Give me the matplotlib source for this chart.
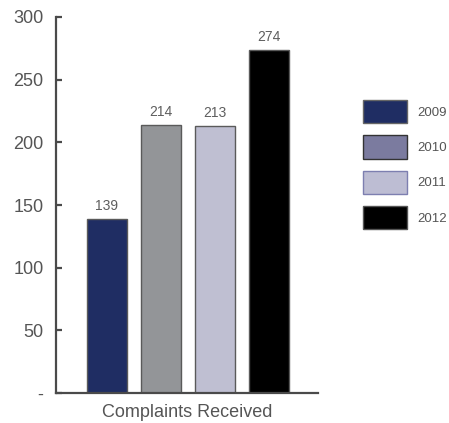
import matplotlib
matplotlib.use("Agg")
import matplotlib.pyplot as plt
from matplotlib.patches import Patch

plt.rcParams['font.family'] = ['Liberation Sans', 'DejaVu Sans']

years = ["2009", "2010", "2011", "2012"]
values = [139, 214, 213, 274]
category = "Complaints Received"
bar_colors = ["#1f2d63", "#939598", "#bfbfd2", "#000000"]
legend_colors = ["#1f2d63", "#7b7b9f", "#bdbdd3", "#000000"]
legend_edges = ["#666666", "#333333", "#7d7fb0", "#555555"]
yticks = [0, 50, 100, 150, 200, 250, 300]
ytick_labels = ["-", "50", "100", "150", "200", "250", "300"]

W, H = 449, 423
fig = plt.figure(figsize=(W / 100, H / 100), dpi=100)
ax = fig.add_axes([56 / W, 30 / H, (318 - 56) / W, (393 - 17) / H])

xs = list(range(len(values)))
bars = ax.bar(xs, values, width=0.74, color=bar_colors,
              edgecolor="#5a5a5a", linewidth=1.0, zorder=2)

for x, v in zip(xs, values):
    ax.annotate(str(v), (x, v), xytext=(0, 4), textcoords="offset points",
                ha="center", va="bottom", fontsize=10, color="#5e5e5e")

ax.set_xlim(-0.944, 3.907)
ax.set_ylim(0, 300)
ax.set_yticks(yticks)
ax.set_yticklabels(ytick_labels)
ax.set_xticks([])
ax.set_xlabel(category, fontsize=13, color="#555555", labelpad=8)

for s in ("top", "right"):
    ax.spines[s].set_visible(False)
for s in ("left", "bottom"):
    ax.spines[s].set_color("#4a4a4a")
    ax.spines[s].set_linewidth(1.6)

ax.tick_params(axis="y", direction="in", length=4, width=1.6, color="#4a4a4a",
               labelsize=13, labelcolor="#555555", pad=9)

handles = [Patch(facecolor=c, edgecolor=e, linewidth=1.0)
           for c, e in zip(legend_colors, legend_edges)]
fig.legend(handles, years, loc="upper left",
           bbox_to_anchor=(363 / W, 1 - 100 / H), frameon=False,
           fontsize=9.5, labelcolor="#555555",
           handlelength=3.3, handleheight=2.35, labelspacing=0.9,
           handletextpad=0.8, borderpad=0, borderaxespad=0)

fig.savefig("out.png", dpi=100)
